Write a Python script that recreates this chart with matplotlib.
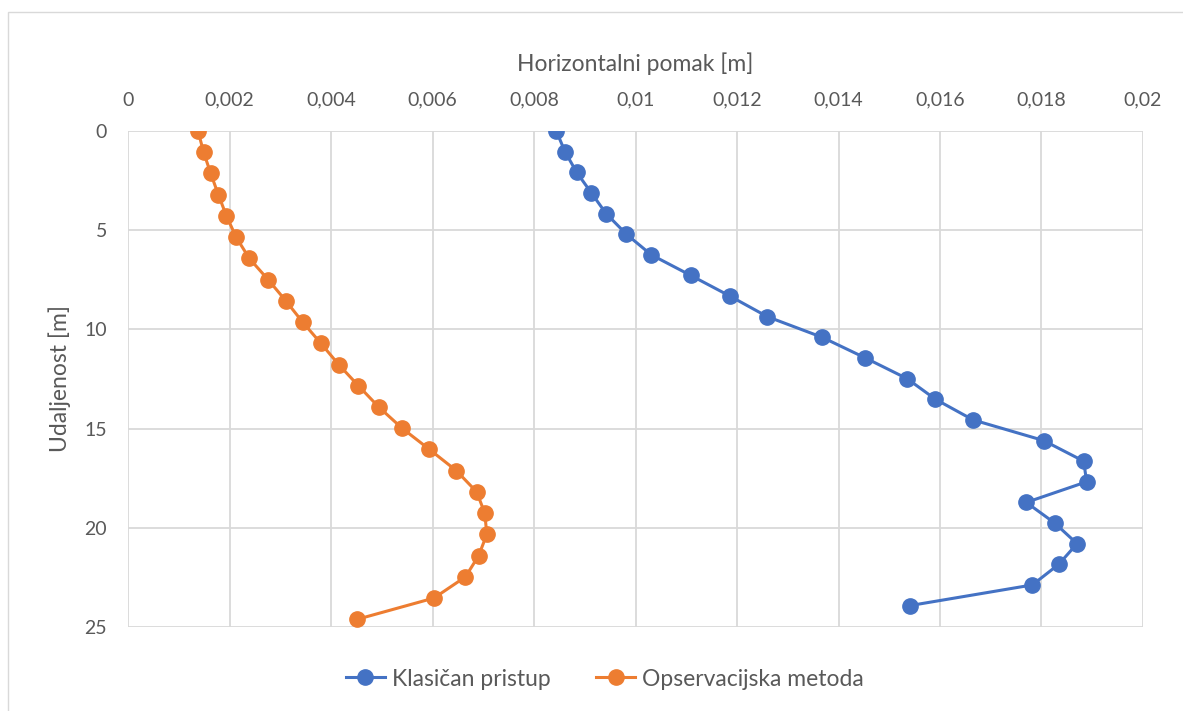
import matplotlib
matplotlib.use("Agg")
import matplotlib.pyplot as plt
from matplotlib.patches import Rectangle

# depth [m] and horizontal displacement [m] for both approaches
depth_klasican = [0.0, 1.04, 2.08, 3.12, 4.16, 5.2, 6.24, 7.28, 8.32, 9.36, 10.4, 11.44,
                  12.48, 13.52, 14.56, 15.6, 16.64, 17.68, 18.72, 19.76, 20.8, 21.84, 22.88, 23.92]
pomak_klasican = [0.00844, 0.00861, 0.00884, 0.00913, 0.00942, 0.00982, 0.01031, 0.01109,
                  0.01186, 0.01260, 0.01368, 0.01453, 0.01535, 0.01591, 0.01665, 0.01804,
                  0.01883, 0.01889, 0.01770, 0.01826, 0.01870, 0.01834, 0.01782, 0.01541]

depth_opservacijska = [0.0, 1.07, 2.14, 3.21, 4.28, 5.35, 6.42, 7.49, 8.56, 9.63, 10.7, 11.77,
                       12.84, 13.91, 14.98, 16.05, 17.12, 18.19, 19.26, 20.33, 21.4, 22.47, 23.54, 24.61]
pomak_opservacijska = [0.00138, 0.00149, 0.00163, 0.00178, 0.00194, 0.00213, 0.00239, 0.00276,
                       0.00311, 0.00344, 0.00380, 0.00415, 0.00454, 0.00494, 0.00540, 0.00594,
                       0.00647, 0.00687, 0.00703, 0.00707, 0.00691, 0.00665, 0.00603, 0.00452]

x_ticks = [0, 0.002, 0.004, 0.006, 0.008, 0.01, 0.012, 0.014, 0.016, 0.018, 0.02]
x_tick_labels = ["0", "0,002", "0,004", "0,006", "0,008", "0,01", "0,012", "0,014", "0,016", "0,018", "0,02"]
y_ticks = [0, 5, 10, 15, 20, 25]

plt.rcParams['font.family'] = ['Lato', 'DejaVu Sans']
txt = "#595959"
grid = "#d9d9d9"

fig = plt.figure(figsize=(11.83, 7.11), dpi=100)
fig.patches.append(Rectangle((8 / 1183, -0.1), 1.2, 1.1 - 12 / 711,
                             transform=fig.transFigure, fill=False, edgecolor=grid, linewidth=1))
ax = fig.add_axes([128 / 1183, 1 - 627 / 711, 1015 / 1183, 496 / 711])

ax.plot(pomak_klasican, depth_klasican, color="#4472C4", lw=2.2, marker="o", ms=11,
        label="Klasičan pristup", zorder=3)
ax.plot(pomak_opservacijska, depth_opservacijska, color="#ED7D31", lw=2.2, marker="o", ms=11,
        label="Opservacijska metoda", zorder=3)

ax.set_xlim(0, 0.02)
ax.set_ylim(25, 0)
ax.xaxis.tick_top()
ax.xaxis.set_label_position("top")
ax.set_xticks(x_ticks)
ax.set_xticklabels(x_tick_labels)
ax.set_yticks(y_ticks)
ax.tick_params(length=0, labelsize=14, labelcolor=txt)
ax.tick_params(axis="x", pad=16)
ax.tick_params(axis="y", pad=15)
ax.grid(True, color=grid, lw=1.3)
for s in ax.spines.values():
    s.set_visible(False)
ax.set_axisbelow(True)

ax.set_xlabel("Horizontalni pomak [m]", fontsize=16.5, color=txt, labelpad=15)
ax.set_ylabel("Udaljenost [m]", fontsize=16.5, color=txt, labelpad=10)

fig.legend(loc="center", bbox_to_anchor=(605 / 1183, 1 - 679 / 711), ncol=2, frameon=False,
           fontsize=16.5, labelcolor=txt, handlelength=1.7, columnspacing=2.0, handletextpad=0.3)

fig.savefig("out.png", dpi=100)
